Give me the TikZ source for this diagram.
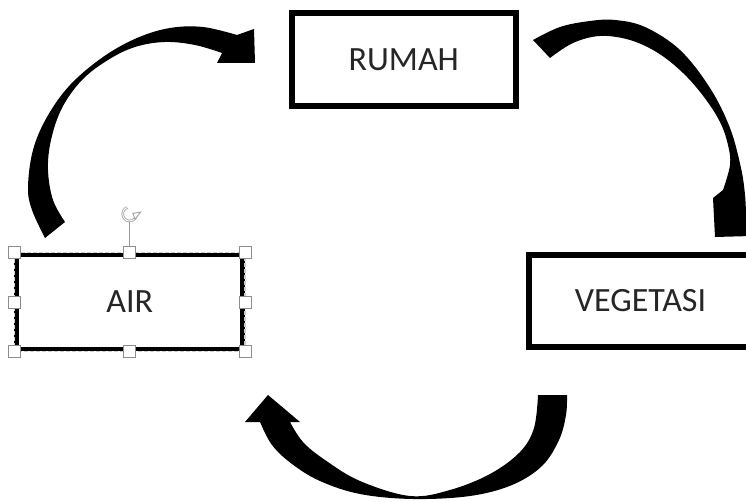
\documentclass[tikz,border=0pt]{standalone}
\usepackage{fontspec}
\setmainfont{Carlito}
\usetikzlibrary{arrows.meta}
\begin{document}
\begin{tikzpicture}[x=1pt,y=-1pt,
  box/.style={draw=black, line width=6pt, fill=white, inner sep=0pt, font=\fontsize{34}{40}\selectfont, text=black!85},
  handle/.style={draw=black!45, fill=white, line width=0.9pt, minimum size=12pt, inner sep=0pt},
  blockarrow/.style={fill=black}]
\useasboundingbox (0,0) rectangle (746,502);
\clip (0,0) rectangle (746,502);

% curved block arrows
\fill[blockarrow] (65,222) -- (45,238) -- plot[smooth, tension=0.6] coordinates {(45,238) (32,210) (28,187) (33,150) (47,117) (70,85) (103,57) (137,38) (170,28) (203,27) (237,35)} -- (254,29) -- (255,63) -- (217,63) -- plot[smooth, tension=0.6] coordinates {(222,53) (195,45) (165,42) (135,47) (108,60) (82,80) (62,108) (51,140) (48,170) (53,200) (65,222)} -- cycle;

\fill[blockarrow] (550,58) -- (533,40) -- plot[smooth, tension=0.6] coordinates {(533,40) (560,27) (590,21) (615,20) (645,27) (680,50) (710,88) (730,128) (741,168) (745,195) (746,215)} -- (752,236) -- (715,237) -- (713,198) -- plot[smooth, tension=0.6] coordinates {(723,190) (730,165) (728,145) (720,122) (704,97) (683,73) (658,53) (630,40) (600,36) (573,43) (550,58)} -- cycle;

\fill[blockarrow] (538,395) -- (567,395) -- plot[smooth, tension=0.6] coordinates {(567,395) (566,415) (559,440) (542,466) (512,485) (470,496) (413,499) (360,494) (320,481) (292,464) (272,445) (260,422)} -- (245,422) -- (268,395) -- (300,422) -- plot[smooth, tension=0.6] coordinates {(290,422) (303,442) (325,460) (360,481) (410,496) (450,490) (490,474) (520,452) (534,428) (538,395)} -- cycle;

% boxes
\node[box, minimum width=224.5pt, minimum height=93.5pt] (rumah) at (403.75,59.75) {RUMAH};
\node[box, minimum width=223pt, minimum height=92pt] (veg) at (640.5,301) {VEGETASI};
\node[box, line width=4.5pt, minimum width=226pt, minimum height=94.3pt] (air) at (129.7,302) {AIR};

% selection marks on AIR
\draw[white!80!black, line width=1.6pt, dash pattern=on 4pt off 2pt] (air.north west) rectangle (air.south east);
\draw[black!40, line width=1pt] (air.north) -- ++(0,-32) coordinate (rotstem);
\begin{scope}[shift={(129.7,214)}, yscale=-1]
  \draw[black!35, line width=2.6pt] (110:7) arc (110:345:7);
  \draw[white, line width=0.9pt] (110:7) arc (110:345:7);
  \draw[black!35, line width=1pt, fill=white] (10:3.2) -- (10:11) -- (-45:7.5) -- cycle;
\end{scope}
\node[handle] (hnw) at (air.north west) {};
\node[handle] (hn) at (air.north) {};
\node[handle] (hne) at (air.north east) {};
\node[handle] (hw) at (air.west) {};
\node[handle] (he) at (air.east) {};
\node[handle] (hsw) at (air.south west) {};
\node[handle] (hs) at (air.south) {};
\node[handle] (hse) at (air.south east) {};
\end{tikzpicture}
\end{document}
